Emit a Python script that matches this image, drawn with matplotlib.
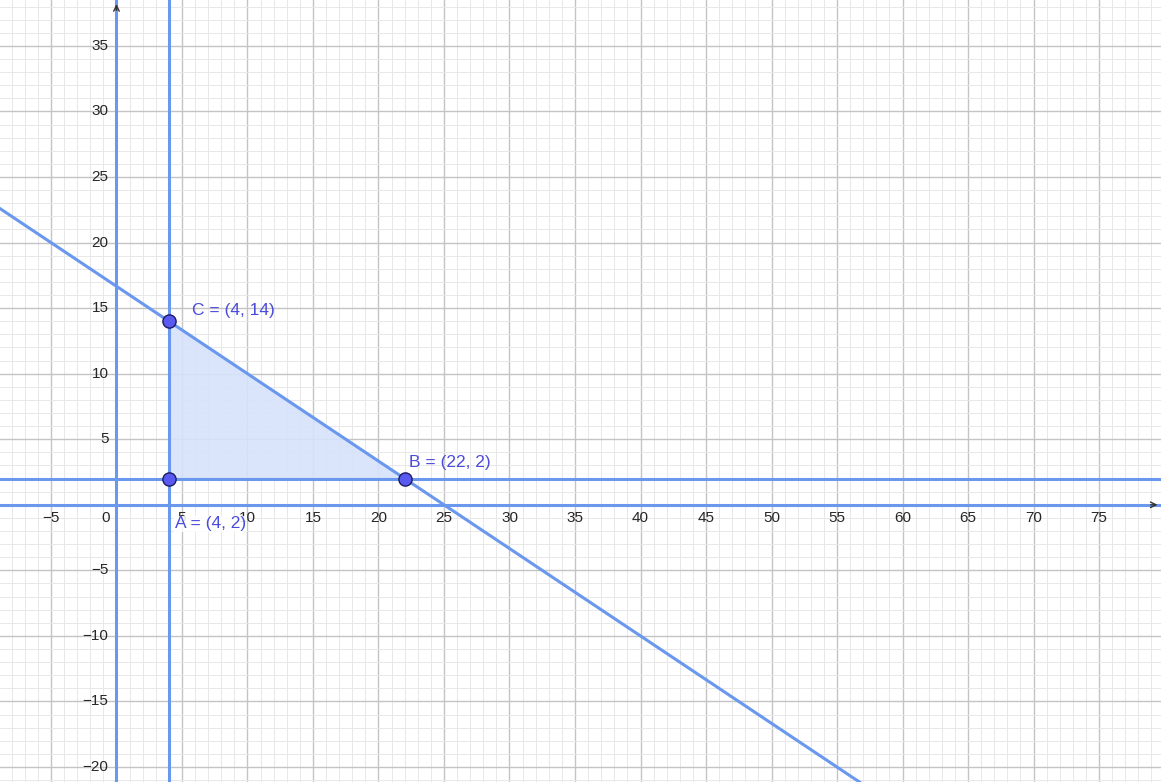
import numpy as np
import matplotlib.pyplot as plt

# Data
point_names = ['A', 'B', 'C']
point_x = [4, 22, 4]
point_y = [2, 2, 14]
# constraint lines: vertical x = const, horizontal y = const, and 2x + 3y = 50
vlines_x = [0, 4]
hlines_y = [0, 2]
line_a, line_b, line_c = 2, 3, 50
xtick_vals = [-5, 0, 5, 10, 15, 20, 25, 30, 35, 40, 45, 50, 55, 60, 65, 70, 75]
ytick_vals = [-20, -15, -10, -5, 5, 10, 15, 20, 25, 30, 35]

plt.rcParams['font.family'] = ['Liberation Sans', 'DejaVu Sans']

fig = plt.figure(figsize=(11.61, 7.82), dpi=100)
ax = fig.add_axes([0, 0, 1, 1])
xmin, xmax = -8.89, 79.73
ymin, ymax = -21.14, 38.5
ax.set_xlim(xmin, xmax)
ax.set_ylim(ymin, ymax)
for s in ax.spines.values():
    s.set_visible(False)
ax.set_xticks([])
ax.set_yticks([])

# Grid
for gx in range(-8, 80):
    major = gx % 5 == 0
    ax.axvline(gx, color='#c4c4c4' if major else '#e8e8e8', lw=1.0 if major else 0.7, zorder=0)
for gy in range(-21, 39):
    major = gy % 5 == 0
    ax.axhline(gy, color='#c4c4c4' if major else '#e8e8e8', lw=1.0 if major else 0.7, zorder=0)

# Axes with arrows
ax.axhline(0, color='#333333', lw=0.8, zorder=1)
ax.axvline(0, color='#333333', lw=0.8, zorder=1)
ax.annotate('', xy=(xmax - 0.05, 0), xytext=(xmax - 1.0, 0),
            arrowprops=dict(arrowstyle='->', color='#333333', lw=1.0), zorder=5)
ax.annotate('', xy=(0, ymax - 0.1), xytext=(0, ymax - 1.0),
            arrowprops=dict(arrowstyle='->', color='#333333', lw=1.0), zorder=5)

# Tick labels
tick_kw = dict(fontsize=11, color='#262626')
for v in xtick_vals:
    if v == 0:
        ax.text(-0.5, -1.0, '0', ha='right', va='center', **tick_kw)
    else:
        ax.text(v, -1.0, '\u2212' + str(-v) if v < 0 else str(v), ha='center', va='center', **tick_kw)
for v in ytick_vals:
    ax.text(-0.6, v, '\u2212' + str(-v) if v < 0 else str(v), ha='right', va='center', **tick_kw)

line_color = '#6a98ee'
# Feasible region
ax.fill(point_x, point_y, color='#d6e3fb', alpha=0.9, zorder=2)

# Constraint lines
for vx in vlines_x:
    ax.axvline(vx, color=line_color, lw=2.2, zorder=3)
for hy in hlines_y:
    ax.axhline(hy, color=line_color, lw=2.2, zorder=3)
xs = np.array([xmin, xmax])
ax.plot(xs, (line_c - line_a * xs) / line_b, color=line_color, lw=2.2, zorder=3)

# Points
ax.plot(point_x, point_y, 'o', ms=9.5, mfc='#5a5af0', mec='#1c1c60', mew=1.0, zorder=6)

label_color = '#4b4bdc'
lab_kw = dict(fontsize=12.5, color=label_color, ha='left', va='center', zorder=7)
ax.text(5.75, 14.85, 'C = (4, 14)', **lab_kw)
ax.text(22.3, 3.25, 'B = (22, 2)', **lab_kw)
ax.text(4.45, -1.45, 'A = (4, 2)', bbox=dict(facecolor='white', edgecolor='none', pad=0.5, alpha=0.85),
        **lab_kw)

fig.savefig('out.png', dpi=100)
